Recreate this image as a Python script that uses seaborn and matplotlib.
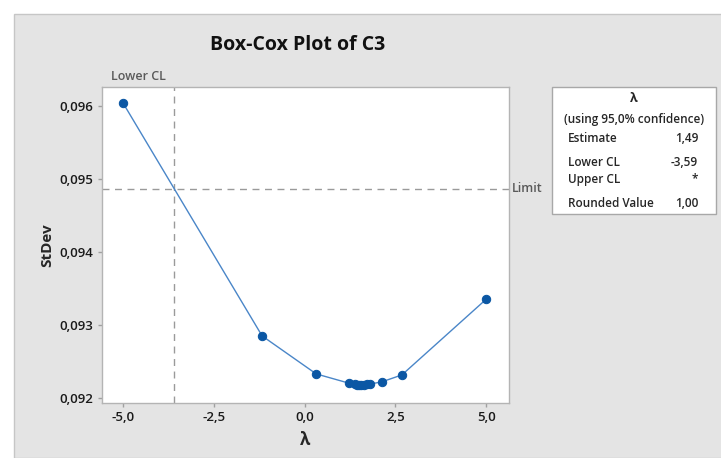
import matplotlib
matplotlib.use("Agg")
import matplotlib.pyplot as plt
import seaborn as sns
from matplotlib.patches import Rectangle
from matplotlib.ticker import FuncFormatter

# values
lam = [-5.0, -1.17, 0.32, 1.23, 1.38, 1.45, 1.49, 1.56, 1.64, 1.73, 1.80, 2.12, 2.68, 5.0]
stdev = [0.09604, 0.092845, 0.092324, 0.092196, 0.092180, 0.092178, 0.092177, 0.092177,
         0.092178, 0.092180, 0.092185, 0.092214, 0.09231, 0.093348]
lower_cl = -3.59
limit = 0.094861
x_ticks = [-5.0, -2.5, 0.0, 2.5, 5.0]
y_ticks = [0.092, 0.093, 0.094, 0.095, 0.096]
table_rows = [("Estimate", "1,49"), ("Lower CL", "-3,59"), ("Upper CL", "*"), ("Rounded Value", "1,00")]

W, H = 721, 458
sns.set_theme(style="white")
plt.rcParams["font.family"] = ["Open Sans", "DejaVu Sans"]

fig = plt.figure(figsize=(W / 100, H / 100), dpi=100)
fig.patch.set_facecolor("white")


def fx(x):
    return x / W


def fy(y):
    return 1 - y / H


# grey panel behind the plot
fig.add_artist(Rectangle((fx(14), 0), 1, fy(14), transform=fig.transFigure,
                         facecolor="#e4e4e4", edgecolor="#c6c6c6", lw=1, zorder=-5))

ax = fig.add_axes([fx(102), fy(403), fx(509) - fx(102), fy(87) - fy(403)])
ax.set_facecolor("white")

sns.lineplot(x=lam, y=stdev, ax=ax, color="#4a86c8", lw=1, marker="o", markersize=6,
             markerfacecolor="#0b57a4", markeredgecolor="#0b57a4", sort=True, zorder=3)

ax.axvline(lower_cl, color="#9a9a9a", lw=1, ls=(0, (5, 4)), zorder=1)
ax.axhline(limit, color="#9a9a9a", lw=1, ls=(0, (5, 4)), zorder=1)

ax.set_xlim(-5.58, 5.63)
ax.set_ylim(0.091925, 0.09626)
ax.set_xticks(x_ticks)
ax.set_yticks(y_ticks)
ax.xaxis.set_major_formatter(FuncFormatter(lambda v, p: f"{v:.1f}".replace(".", ",")))
ax.yaxis.set_major_formatter(FuncFormatter(lambda v, p: f"{v:.3f}".replace(".", ",")))
ax.tick_params(axis="both", length=3, width=1, color="#a0a0a0", labelsize=9.5,
               labelcolor="#1a1a1a", pad=3, direction="out", bottom=True, left=True)
for lbl in ax.get_xticklabels() + ax.get_yticklabels():
    lbl.set_fontweight("semibold")
for s in ax.spines.values():
    s.set_color("#b4b4b4")
    s.set_linewidth(1)

ax.set_xlabel("λ", fontsize=12, fontweight="bold", labelpad=5)
ax.set_ylabel("StDev", fontsize=11, fontweight="bold", labelpad=4)

fig.text(fx(298), fy(45), "Box-Cox Plot of C3", fontsize=14, fontweight="bold",
         ha="center", va="center", color="#111111")
fig.text(fx(166), fy(77), "Lower CL", ha="right", va="center", fontsize=9,
         fontweight="semibold", color="#5a5a5a")
ax.text(1.006, limit, "Limit", transform=ax.get_yaxis_transform(),
        ha="left", va="center", fontsize=9, fontweight="semibold", color="#5a5a5a")

# lambda summary box
fig.add_artist(Rectangle((fx(552), fy(214)), fx(716) - fx(552), fy(87) - fy(214),
                         transform=fig.transFigure, facecolor="white",
                         edgecolor="#a8a8a8", lw=1, zorder=2))
fig.text(fx(634), fy(98), "λ", fontsize=9, fontweight="bold", ha="center", va="center", zorder=3)
fig.text(fx(634), fy(120), "(using 95,0% confidence)", fontsize=8.5, fontweight="semibold",
         ha="center", va="center", zorder=3)
row_y = [139, 162, 179, 204]
for (name, val), yy in zip(table_rows, row_y):
    fig.text(fx(568), fy(yy), name, fontsize=8.5, fontweight="semibold",
             ha="left", va="center", zorder=3)
    fig.text(fx(698), fy(yy), val, fontsize=8.5, fontweight="semibold",
             ha="right", va="center", zorder=3)

fig.savefig("out.png", dpi=100, facecolor=fig.get_facecolor())
